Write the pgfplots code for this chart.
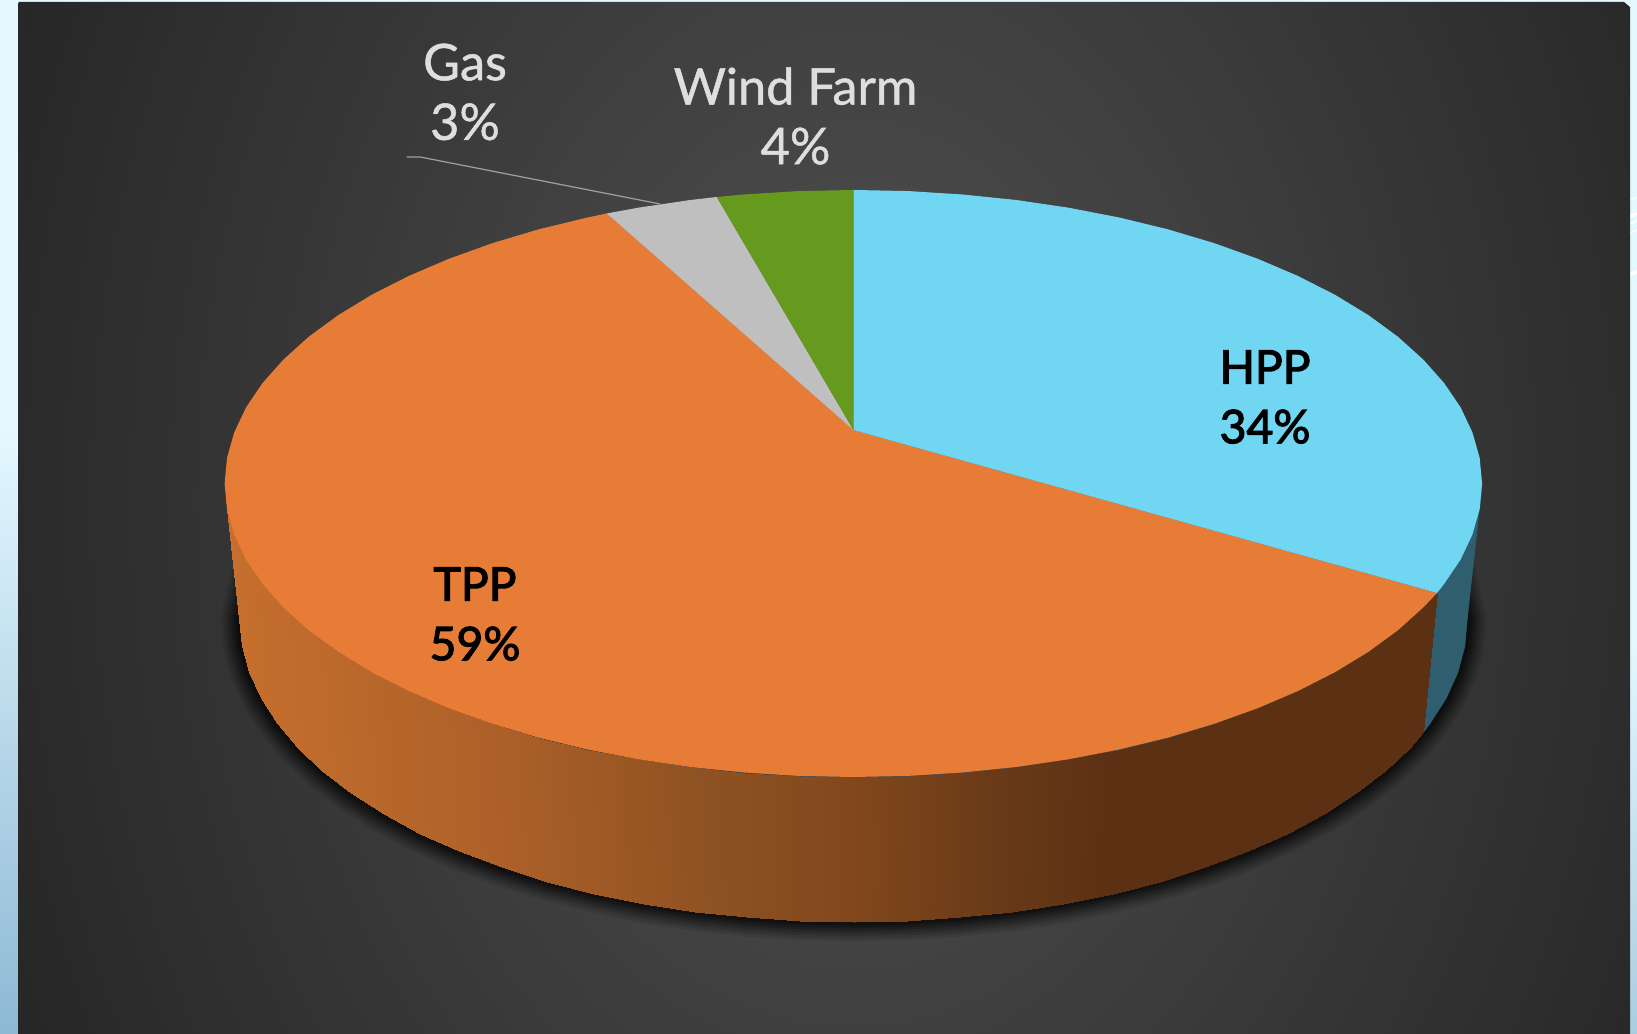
\documentclass[border=0pt]{standalone}
\usepackage{pgfplots}
\pgfplotsset{compat=1.18}
\usepackage{pgfplotstable}
\usepackage{fontspec}
\setmainfont{Lato}
\newfontfamily\blacklab[FakeBold=2.5]{Lato}
\newfontfamily\greylab[FakeBold=1]{Lato}
\definecolor{hpp}{RGB}{112,214,242}
\definecolor{tpp}{RGB}{230,124,54}
\definecolor{gasc}{RGB}{191,191,191}
\definecolor{wind}{RGB}{102,154,30}
\definecolor{hppside}{RGB}{47,94,110}
\definecolor{lab}{RGB}{222,222,222}
\definecolor{stripl}{RGB}{228,248,255}
\definecolor{stripd}{RGB}{140,184,212}
\definecolor{stripr}{RGB}{168,204,224}
\pgfdeclareradialshading{panelshade}{\pgfpoint{0bp}{0bp}}{rgb(0bp)=(.32,.32,.32);rgb(25bp)=(.15,.15,.15);rgb(50bp)=(.15,.15,.15)}
\pgfplotstableread{
x y
1450 540
1467 620
1464.7 646.3
1457.7 672.4
1446.1 698.2
1430.0 723.3
1409.5 747.6
1384.8 771.0
1356.1 793.2
1323.5 814.1
1287.3 833.5
1247.9 851.3
1205.4 867.4
1160.3 881.5
1112.8 893.7
1063.3 903.8
1012.3 911.7
960.0 917.4
907.0 920.9
853.5 922.0
800.0 920.9
747.0 917.4
694.7 911.7
643.7 903.8
594.2 893.7
546.7 881.5
501.6 867.4
459.1 851.3
419.7 833.5
383.5 814.1
350.9 793.2
322.2 771.0
297.5 747.6
277.0 723.3
260.9 698.2
249.3 672.4
242.3 646.3
240.0 620
257 540
}\bottomarc
\begin{document}
\begin{tikzpicture}[x=0.284051bp,y=0.284058bp]
% page background strips (coordinates in reference pixels, y measured from the bottom)
\fill[stripl] (0,-6) rectangle (1637,1035);
\shade[top color=stripl,bottom color=stripd] (0,-6) rectangle (20,605);
\shade[top color=stripl,bottom color=stripr] (1625,-6) rectangle (1637,395);
\draw[white,line width=.4pt] (1630,835) -- (1637,838);
\draw[white,line width=.9pt] (1630,818) -- (1637,822);
\draw[white,line width=.4pt] (1630,811) -- (1637,814);
\draw[white,line width=.4pt] (1630,802) -- (1637,805);
\draw[white,line width=1pt] (1630,760) -- (1637,764);
% dark panel
\begin{scope}
\clip (18,-6) -- (18,1031) -- (19,1033) -- (1624,1033) -- (1630,1028) -- (1630,-6) -- cycle;
\shade[shading=panelshade] (-67,-730) rectangle (1773,1800);
\end{scope}
\begin{axis}[
  at={(0,0)},anchor=south west,scale only axis,
  width=465bp,height=294bp,
  xmin=0,xmax=1637,ymin=0,ymax=1035,y dir=reverse,
  hide axis,
  colormap={side}{rgb255(0pt)=(198,111,46); rgb255(276pt)=(172,96,40); rgb255(476pt)=(143,82,34); rgb255(626pt)=(130,72,28); rgb255(776pt)=(104,58,23); rgb255(896pt)=(91,48,19); rgb255(1213pt)=(91,48,19)},
  point meta min=224,point meta max=1437,
  every axis plot/.append style={line join=round},
]
% soft shadow below the rim
\addplot[draw=black,opacity=.08,line width=11pt,line cap=round] table[x=x,y=y] {\bottomarc};
\addplot[draw=black,opacity=.10,line width=9.5pt,line cap=round] table[x=x,y=y] {\bottomarc};
\addplot[draw=black,opacity=.12,line width=8pt,line cap=round] table[x=x,y=y] {\bottomarc};
\addplot[draw=black,opacity=.15,line width=6.5pt,line cap=round] table[x=x,y=y] {\bottomarc};
\addplot[draw=black,opacity=.18,line width=5pt,line cap=round] table[x=x,y=y] {\bottomarc};
\addplot[draw=black,opacity=.22,line width=3.5pt,line cap=round] table[x=x,y=y] {\bottomarc};
\addplot[draw=black,opacity=.25,line width=2pt,line cap=round] table[x=x,y=y] {\bottomarc};
% side of HPP
\addplot[fill=hppside,draw=hppside,line width=.2pt] coordinates {
(1482.0,483.5)(1479.6,509.1)(1472.4,534.5)(1460.6,559.5)(1444.1,583.9)(1437.0,593.0)
(1423.3,732.2)(1430.0,723.3)(1446.1,698.2)(1457.7,672.4)(1464.7,646.3)(1467.0,620.0)} -- cycle;
% side of TPP
\addplot[surf,shader=interp,mesh/rows=2,mesh/cols=33,mesh/ordering=x varies,point meta=explicit]
 table[x=x,y=y,meta=m] {
x y m
224.6 483.5 224
227.0 509.1 227
234.2 534.5 234
246.0 559.5 246
262.5 583.9 262
283.5 607.5 283
308.8 630.3 309
338.3 651.9 338
371.7 672.2 372
408.7 691.0 409
449.2 708.3 449
492.7 723.9 493
538.9 737.7 539
587.6 749.5 588
638.3 759.3 638
690.6 767.0 691
744.2 772.5 744
798.5 775.9 798
853.3 777.0 853
908.1 775.9 908
962.4 772.5 962
1016.0 767.0 1016
1068.3 759.3 1068
1119.0 749.5 1119
1167.7 737.7 1168
1213.9 723.9 1214
1257.4 708.3 1257
1297.9 691.0 1298
1334.9 672.2 1335
1368.3 651.9 1368
1397.8 630.3 1398
1423.1 607.5 1423
1437.0 593.0 1437
240.0 620.0 224
242.3 646.3 227
249.3 672.4 234
260.9 698.2 246
277.0 723.3 262
297.5 747.6 283
322.2 771.0 309
350.9 793.2 338
383.5 814.1 372
419.7 833.5 409
459.1 851.3 449
501.6 867.4 493
546.7 881.5 539
594.2 893.7 588
643.7 903.8 638
694.7 911.7 691
747.0 917.4 744
800.0 920.9 798
853.5 922.0 853
907.0 920.9 908
960.0 917.4 962
1012.3 911.7 1016
1063.3 903.8 1068
1112.8 893.7 1119
1160.3 881.5 1168
1205.4 867.4 1214
1247.9 851.3 1257
1287.3 833.5 1298
1323.5 814.1 1335
1356.1 793.2 1368
1384.8 771.0 1398
1409.5 747.6 1423
1423.3 732.2 1437
};
% top face: TPP 59
\addplot[fill=tpp,draw=none] coordinates {
(853.3,430)(1437.0,593.0)(1423.1,607.5)(1397.8,630.3)(1368.3,651.9)(1334.9,672.2)(1297.9,691.0)(1257.4,708.3)(1213.9,723.9)(1167.7,737.7)(1119.0,749.5)(1068.3,759.3)(1016.0,767.0)(962.4,772.5)(908.1,775.9)(853.3,777.0)
(798.5,775.9)(744.2,772.5)(690.6,767.0)(638.3,759.3)(587.6,749.5)(538.9,737.7)(492.7,723.9)(449.2,708.3)(408.7,691.0)(371.7,672.2)(338.3,651.9)(308.8,630.3)(283.5,607.5)(262.5,583.9)(246.0,559.5)(234.2,534.5)(227.0,509.1)(224.6,483.5)
(227.0,457.9)(234.2,432.5)(246.0,407.5)(262.5,383.1)(283.5,359.5)(308.8,336.7)(338.3,315.1)(371.7,294.8)(408.7,276.0)(449.2,258.7)(492.7,243.1)(538.9,229.3)(587.6,217.5)(606.7,213.5)} -- cycle;
% top face: HPP 34
\addplot[fill=hpp,draw=none] coordinates {
(853.3,430)(853.3,190.0)(908.1,191.1)(962.4,194.5)(1016.0,200.0)(1068.3,207.7)(1119.0,217.5)(1167.7,229.3)(1213.9,243.1)(1257.4,258.7)(1297.9,276.0)(1334.9,294.8)(1368.3,315.1)(1397.8,336.7)(1423.1,359.5)(1444.1,383.1)(1460.6,407.5)(1472.4,432.5)(1479.6,457.9)(1482.0,483.5)
(1479.6,509.1)(1472.4,534.5)(1460.6,559.5)(1444.1,583.9)(1437.0,593.0)} -- cycle;
% top face: Gas 3
\addplot[fill=gasc,draw=none] coordinates {
(853.3,430)(606.7,213.5)(638.3,207.7)(690.6,200.0)(716.7,197.0)} -- cycle;
% top face: Wind Farm 4
\addplot[fill=wind,draw=none] coordinates {
(853.3,430)(716.7,197.0)(744.2,194.5)(798.5,191.1)(853.3,190.0)} -- cycle;
% leader line
\addplot[draw=gray!75!white,line width=.35pt] coordinates {(406.7,157)(420,157)(660,204)};
\node[align=center,font=\blacklab\fontsize{13.2}{17}\selectfont,text=black] at (axis cs:1265,397) {HPP\\34\%};
\node[align=center,font=\blacklab\fontsize{13.2}{17}\selectfont,text=black] at (axis cs:475,614) {TPP\\59\%};
\node[align=center,font=\greylab\fontsize{14.4}{17}\selectfont,text=lab] at (axis cs:465,92) {Gas\\3\%};
\node[align=center,font=\greylab\fontsize{14.4}{17}\selectfont,text=lab] at (axis cs:795.5,116) {Wind Farm\\4\%};
\end{axis}
\pgfresetboundingbox
\useasboundingbox (0,2) rectangle (1637,1035);
\end{tikzpicture}
\end{document}
